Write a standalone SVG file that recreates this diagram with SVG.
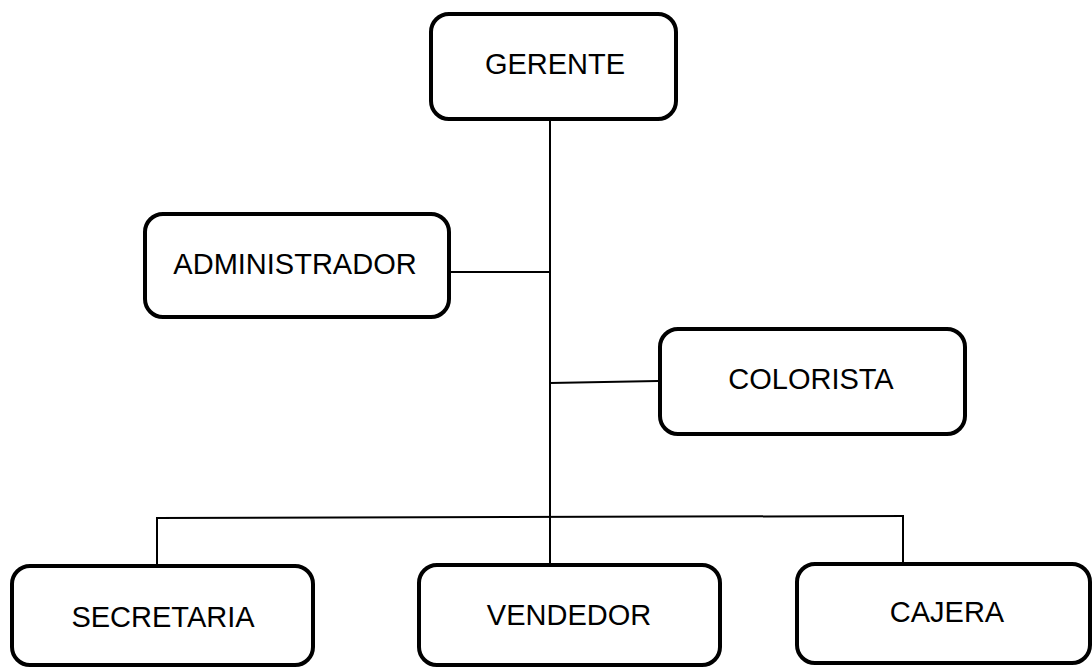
<svg xmlns="http://www.w3.org/2000/svg" width="1092" height="669" viewBox="0 0 1092 669">
<style>
.box{fill:#ffffff;stroke:#000000;stroke-width:4}
.lbl{font-family:"Liberation Sans",Arial,sans-serif;font-size:29px;fill:#000000;text-anchor:middle}
.con{stroke:#000000;stroke-width:2;fill:none}
</style>
<rect width="1092" height="669" fill="#ffffff"/>
<g id="connectors">
<line class="con" x1="550" y1="121" x2="550" y2="564"/>
<line class="con" x1="451" y1="272" x2="550" y2="272"/>
<line class="con" x1="550" y1="383" x2="658" y2="381"/>
<line class="con" x1="156" y1="518" x2="904" y2="516"/>
<line class="con" x1="157" y1="517" x2="157" y2="565"/>
<line class="con" x1="903" y1="515" x2="903" y2="563"/>
</g>
<g id="gerente">
<rect class="box" x="431" y="14" width="245" height="105" rx="18"/>
<text class="lbl" x="555" y="74">GERENTE</text>
</g>
<g id="administrador">
<rect class="box" x="145" y="214" width="304" height="103" rx="18"/>
<text class="lbl" x="295" y="274">ADMINISTRADOR</text>
</g>
<g id="colorista">
<rect class="box" x="660" y="329" width="305" height="105" rx="18"/>
<text class="lbl" x="811" y="389">COLORISTA</text>
</g>
<g id="secretaria">
<rect class="box" x="12" y="566" width="301" height="99" rx="18"/>
<text class="lbl" x="163" y="627">SECRETARIA</text>
</g>
<g id="vendedor">
<rect class="box" x="419" y="565" width="301" height="100" rx="18"/>
<text class="lbl" x="569" y="625">VENDEDOR</text>
</g>
<g id="cajera">
<rect class="box" x="797" y="564" width="293" height="99" rx="18"/>
<text class="lbl" x="947" y="622">CAJERA</text>
</g>
</svg>
